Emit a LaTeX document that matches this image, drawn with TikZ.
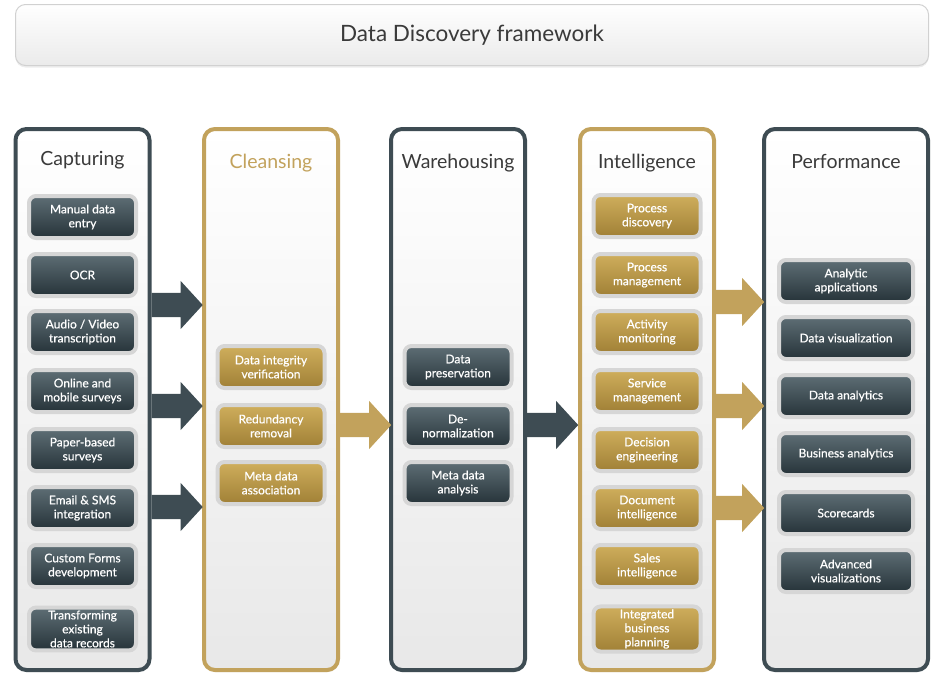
\documentclass[tikz,border=0pt]{standalone}
\usepackage{fontspec}
\setmainfont{Lato}
\newfontfamily\itemfont[FakeBold=0.6]{Lato}
\usetikzlibrary{positioning, shapes.arrows, shadows, calc}
\definecolor{ddSlate}   {RGB}{62,76,83}
\definecolor{ddSlateTop}{RGB}{94,110,117}
\definecolor{ddSlateBot}{RGB}{38,51,57}
\definecolor{ddGold}    {RGB}{194,162,92}
\definecolor{ddGoldTop} {RGB}{207,174,92}
\definecolor{ddGoldBot} {RGB}{160,128,54}
\definecolor{ddRim}     {RGB}{214,214,214}
\definecolor{ddText}    {RGB}{58,58,58}

\tikzset{
    column/.style={rounded corners=11pt, line width=4pt, minimum width=134pt, minimum height=541pt,
        top color=white, bottom color=black!9, inner sep=0pt,
        drop shadow={shadow xshift=1pt, shadow yshift=-2pt, opacity=0.15}},
    coltitle/.style={font=\fontsize{19.5}{22}\selectfont, text=ddText, inner sep=0pt},
    item/.style={rounded corners=7pt, draw=ddRim, line width=4pt, minimum width=107pt, minimum height=42pt,
        align=center, text=white, inner sep=3pt, font=\itemfont\fontsize{12}{14}\selectfont,
        drop shadow={shadow xshift=0pt, shadow yshift=-4pt, opacity=0.3, shadow scale=0.9}},
    slateitem/.style={item, top color=ddSlateTop, bottom color=ddSlateBot},
    golditem/.style={item, top color=ddGoldTop, bottom color=ddGoldBot},
    blockarrow/.style={single arrow, minimum height=51pt, text width=0pt, text height=12pt, text depth=12pt,
        single arrow head extend=12pt, single arrow tip angle=95, inner sep=0pt, anchor=tail},
}

\begin{document}
\begin{tikzpicture}[x=1pt, y=-1pt]
    \useasboundingbox (0,0) rectangle (947,697);

    % title bar
    \node[rounded corners=10pt, draw=black!18, line width=1pt, top color=white, bottom color=black!8,
        minimum width=913pt, minimum height=61pt,
        drop shadow={shadow xshift=0pt, shadow yshift=-2pt, opacity=0.15},
        font=\fontsize{22.5}{26}\selectfont, text=ddText] (title) at (472,35) {Data Discovery framework};

    % columns
    \node[column, draw=ddSlate] (cap) at (82.5,399.5) {};
    \node[column, draw=ddGold]  (cle) at (271,399.5) {};
    \node[column, draw=ddSlate] (war) at (458,399.5) {};
    \node[column, draw=ddGold]  (int) at (647,399.5) {};
    \node[column, draw=ddSlate, minimum width=164pt] (per) at (846,399.5) {};

    \node[coltitle, below=24pt of cap.north] (capT) {Capturing};
    \node[coltitle, below=27pt of cle.north, text=ddGold] (cleT) {Cleansing};
    \node[coltitle, below=27pt of war.north] (warT) {Warehousing};
    \node[coltitle, below=27pt of int.north] (intT) {Intelligence};
    \node[coltitle, below=27pt of per.north] (perT) {Performance};

    % block arrows between the columns
    \node[blockarrow, fill=ddSlate] (a1) at (cap.east |- 0,305) {};
    \node[blockarrow, fill=ddSlate] (a2) at (cap.east |- 0,406) {};
    \node[blockarrow, fill=ddSlate] (a3) at (cap.east |- 0,507) {};
    \node[blockarrow, fill=ddGold]  (a4) at (cle.east |- 0,425) {};
    \node[blockarrow, fill=ddSlate] (a5) at (war.east |- 0,425) {};
    \node[blockarrow, fill=ddGold, minimum height=48pt] (a6) at (int.east |- 0,302) {};
    \node[blockarrow, fill=ddGold, minimum height=48pt] (a7) at (int.east |- 0,406) {};
    \node[blockarrow, fill=ddGold, minimum height=48pt] (a8) at (int.east |- 0,508) {};

    % items
    \foreach \y/\t [count=\i] in {217/{Manual data\\entry}, 275/OCR, 332/{Audio / Video\\transcription},
        391/{Online and\\mobile surveys}, 450/{Paper-based\\surveys}, 508/{Email \& SMS\\integration},
        566/{Custom Forms\\development}, 629/{Transforming\\existing\\data records}}
        \node[slateitem] (cap\i) at (cap.center |- 0,\y) {\t};

    \foreach \y/\t [count=\i] in {367/{Data integrity\\verification}, 426/{Redundancy\\removal},
        483/{Meta data\\association}}
        \node[golditem] (cle\i) at (cle.center |- 0,\y) {\t};

    \foreach \y/\t [count=\i] in {367/{Data\\preservation}, 426/{De-\\normalization},
        483/{Meta data\\analysis}}
        \node[slateitem] (war\i) at (war.center |- 0,\y) {\t};

    \foreach \y/\t [count=\i] in {216/{Process\\discovery}, 275/{Process\\management}, 332/{Activity\\monitoring},
        391/{Service\\management}, 450/{Decision\\engineering}, 508/{Document\\intelligence},
        566/{Sales\\intelligence}, 629/{Integrated\\business\\planning}}
        \node[golditem] (int\i) at (int.center |- 0,\y) {\t};

    \foreach \y/\t [count=\i] in {281/{Analytic\\applications}, 338/{Data visualization}, 396/{Data analytics},
        454/{Business analytics}, 513/{Scorecards}, 571/{Advanced\\visualizations}}
        \node[slateitem, minimum width=134pt] (per\i) at (per.center |- 0,\y) {\t};
\end{tikzpicture}
\end{document}
